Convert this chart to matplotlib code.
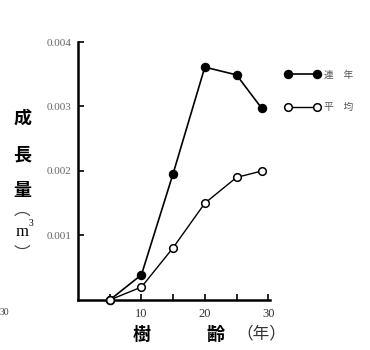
import matplotlib
matplotlib.use("Agg")
import matplotlib.pyplot as plt

# Data
ages = [5, 10, 15, 20, 25, 29]
current_annual = [0.0, 0.00039, 0.00196, 0.00361, 0.00349, 0.00297]
mean_annual = [0.0, 0.00020, 0.00081, 0.00150, 0.00190, 0.00200]
series_labels = ["連　年", "平　均"]
yticks = [0.001, 0.002, 0.003, 0.004]
yticklabels = ["0.001", "0.002", "0.003", "0.004"]
xticks = [5, 10, 15, 20, 25, 30]
xticklabels = ["", "10", "", "20", "", "30"]

cjk = ["Noto Sans CJK JP", "DejaVu Sans"]
serif = ["Liberation Serif", "DejaVu Serif"]

fig = plt.figure(figsize=(3.7, 3.5), dpi=100)
ax = fig.add_axes([0.211, 0.143, 0.519, 0.737])

ax.plot(ages, current_annual, color="black", lw=1.2, marker="o", ms=5.8,
        mfc="black", mec="black", label=series_labels[0], clip_on=False, zorder=3)
ax.plot(ages, mean_annual, color="black", lw=1.0, marker="o", ms=5.5,
        mfc="white", mec="black", mew=1.1, label=series_labels[1], clip_on=False, zorder=3)

ax.set_xlim(0, 30.3)
ax.set_ylim(0, 0.004)
for s in ["top", "right"]:
    ax.spines[s].set_visible(False)
for s in ["left", "bottom"]:
    ax.spines[s].set_linewidth(1.8)

ax.set_yticks(yticks)
ax.set_yticklabels(yticklabels, family=serif, fontsize=8, color="#666666")
ax.set_xticks(xticks)
ax.set_xticklabels(xticklabels, family=serif, fontsize=9, color="#333333")
ax.tick_params(axis="both", direction="in", length=4, width=1.2)
ax.tick_params(axis="y", pad=5)
ax.tick_params(axis="x", pad=6)

leg = ax.legend(loc="center left", bbox_to_anchor=(1.03, 0.81), frameon=False,
                numpoints=2, handlelength=3.6, labelspacing=2.3, handletextpad=0.5,
                prop={"family": cjk, "size": 7})
for t in leg.get_texts():
    t.set_color("#555555")

# Y label (vertical stacked)
ylx = 0.06
for ch, y in zip(["成", "長", "量"], [0.663, 0.557, 0.457]):
    fig.text(ylx, y, ch, family=cjk, fontsize=13, fontweight="bold",
             ha="center", va="center")
fig.text(ylx, 0.400, "︵", family=cjk, fontsize=12,
         ha="center", va="center", color="#444444")
fig.text(ylx, 0.338, "m", family=serif, fontsize=12, ha="center", va="center")
fig.text(ylx + 0.024, 0.362, "3", family=serif, fontsize=7, ha="center", va="center")
fig.text(ylx, 0.272, "︶", family=cjk, fontsize=12,
         ha="center", va="center", color="#444444")

# X label
fig.text(0.384, 0.045, "樹", family=cjk, fontsize=13, fontweight="bold", ha="center", va="center")
fig.text(0.581, 0.045, "齢", family=cjk, fontsize=13, fontweight="bold", ha="center", va="center")
fig.text(0.705, 0.045, "（年）", family=cjk, fontsize=12, ha="center", va="center", color="#333333")

# cropped neighbouring label at the left edge
fig.text(0.012, 0.106, "30", family=serif, fontsize=7, ha="center", va="center", color="#444444")

fig.savefig("out.png", dpi=100, facecolor="white")
